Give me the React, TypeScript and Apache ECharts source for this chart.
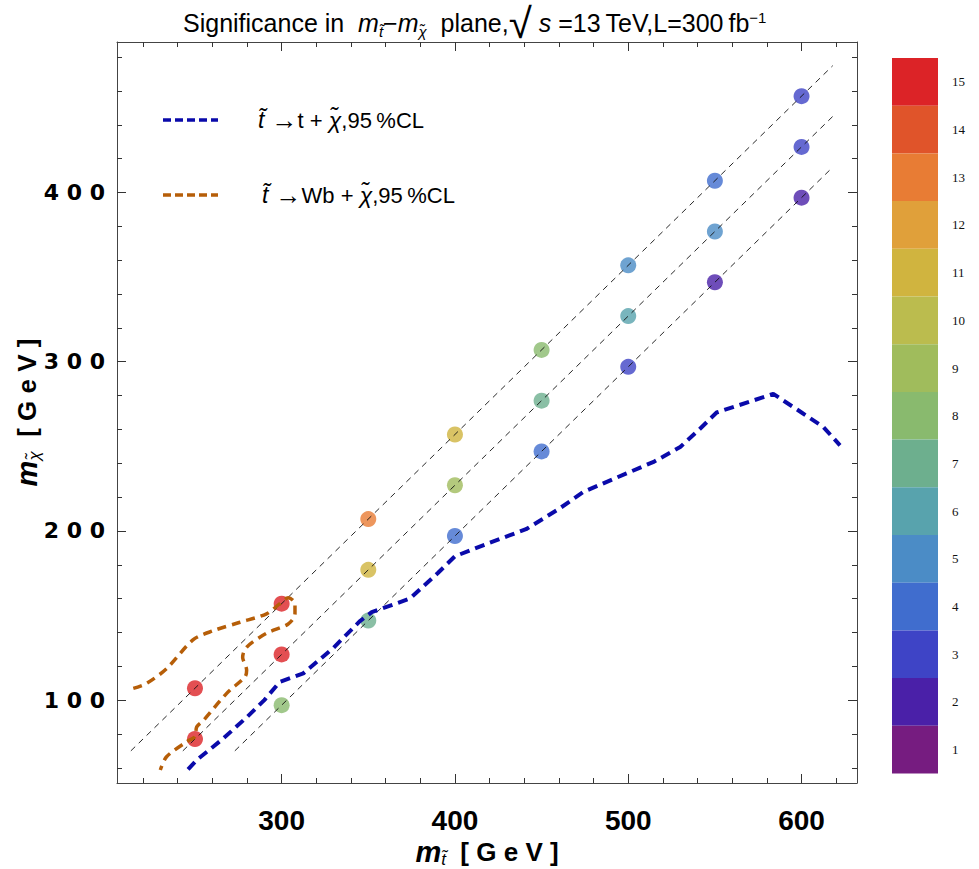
import React, { useEffect, useRef } from "react";
import * as echarts from "echarts";

// Significance points: [m_stop, m_chi, significance]
const lineA = [
  [250, 107, 15], [300, 157, 15], [350, 207, 13], [400, 257, 11],
  [450, 307, 8], [500, 357, 5], [550, 407, 4], [600, 457, 3],
];
const lineB = [
  [250, 77, 15], [300, 127, 15], [350, 177, 11], [400, 227, 9],
  [450, 277, 7], [500, 327, 6], [550, 377, 5], [600, 427, 3],
];
const lineC = [
  [300, 97, 8], [350, 147, 7], [400, 197, 4], [450, 247, 4],
  [500, 297, 3], [550, 347, 2], [600, 397, 2],
];

// Guide lines m_chi = m_stop - offset
const guideA = [[213, 70], [618, 475]];
const guideB = [[243, 70], [618, 445]];
const guideC = [[273, 70], [618, 415]];

// 95% CL contour t~ -> t + chi
const clTop = [
  [246, 59], [251, 64.6], [266, 77], [280, 90], [290, 100], [299, 110.8],
  [312.5, 115.8], [330, 131], [345, 146.5], [352, 152], [374, 160],
  [390, 175], [400, 185], [420, 193], [441, 201], [460, 213], [474, 223],
  [499, 234], [515, 241], [530, 249.6], [541, 260], [551, 270], [583.7, 281],
  [600, 270], [612.6, 261.4], [622.2, 250.6],
];

// 95% CL contour t~ -> W b + chi
const clWb = [
  [214.4, 106.9], [222, 109.8], [233.6, 118.6], [249, 135.7], [260.5, 141],
  [276, 146], [291.3, 151], [299, 157], [303.8, 160.5], [307.7, 157],
  [307.7, 151], [303.8, 145], [291.3, 139.5], [279.8, 131.3], [277.5, 125.4],
  [279.8, 117.7], [278.9, 113.8], [268.3, 104], [254.9, 88], [251, 84.2],
  [250, 78.3], [245.2, 75.4], [233.6, 66.5], [230, 58.7],
];

// Colour bar levels (top to bottom)
const levels = [15, 14, 13, 12, 11, 10, 9, 8, 7, 6, 5, 4, 3, 2, 1];
const levelColors = [
  "#DC2327", "#E0542A", "#E87C34", "#E0A03A", "#D0B43F",
  "#BBBC4E", "#A0BC5C", "#89BA6E", "#6DAF8E", "#58A3AD",
  "#4B8CC6", "#406DCE", "#3E44C6", "#4A20A8", "#761C80",
];

const xMajor = [300, 400, 500, 600];
const xMinor = [220, 240, 260, 280, 320, 340, 360, 380, 420, 440, 460, 480, 520, 540, 560, 580, 620];
const yMajor = [100, 200, 300, 400];
const yMinor = [60, 80, 120, 140, 160, 180, 220, 240, 260, 280, 320, 340, 360, 380, 420, 440, 460, 480];

const FONT = "'Liberation Sans', Arial, Helvetica, sans-serif";
const WIDE = "'DejaVu Sans', 'Liberation Sans', sans-serif";

const BLUE = "#0A0AAA";
const ORANGE = "#B65E08";

export default function App() {
  const ref = useRef<HTMLDivElement>(null);
  useEffect(() => {
    document.body.style.margin = "0";
    const chart = echarts.init(ref.current!, null, { renderer: "svg" });

    const frame = { show: true, lineStyle: { color: "#444", width: 1 } };
    const spaced = (v: number) => String(v).split("").join("\u2005\u200A");
    const xBase = { type: "value", min: 205, max: 632, splitLine: { show: false }, gridIndex: 0 };
    const yBase = { type: "value", min: 51, max: 489, splitLine: { show: false }, gridIndex: 0 };

    const nameRich = {
      m: { fontFamily: FONT, fontStyle: "italic", fontWeight: "bold", fontSize: 29, color: "#000" },
      s: { fontFamily: FONT, fontStyle: "italic", fontSize: 17, color: "#000", padding: [16, 0, 0, 0] },
      g: { fontFamily: FONT, fontWeight: "bold", fontSize: 26, color: "#000" },
    };

    const xAxes = [
      {
        ...xBase, position: "bottom", axisLine: frame,
        axisTick: { inside: true, length: 9, customValues: xMajor, lineStyle: { color: "#333" } },
        axisLabel: {
          customValues: xMajor, margin: 23, fontFamily: FONT, fontWeight: "bold",
          fontSize: 28, color: "#000",
        },
        name: "{m|m}{s|t\u0303}{g|  [ G e V ]}", nameLocation: "middle", nameGap: 52,
        nameMoveOverlap: false,
        nameTextStyle: { rich: nameRich },
      },
      {
        ...xBase, position: "bottom", axisLine: { show: false },
        axisTick: { inside: true, length: 5, customValues: xMinor, lineStyle: { color: "#333" } },
        axisLabel: { show: false },
      },
      {
        ...xBase, position: "top", axisLine: frame,
        axisTick: { inside: true, length: 9, customValues: xMajor, lineStyle: { color: "#333" } },
        axisLabel: { show: false },
      },
      {
        ...xBase, position: "top", axisLine: { show: false },
        axisTick: { inside: true, length: 5, customValues: xMinor, lineStyle: { color: "#333" } },
        axisLabel: { show: false },
      },
    ];

    const yAxes = [
      {
        ...yBase, position: "left", axisLine: frame,
        axisTick: { inside: true, length: 9, customValues: yMajor, lineStyle: { color: "#333" } },
        axisLabel: {
          customValues: yMajor, margin: 12, fontFamily: WIDE, fontWeight: "bold",
          fontSize: 22, color: "#000", formatter: (v: number) => spaced(v),
        },
        name: "{m|m}{s|\u03C7\u0303}{g|  [ G e V ]}", nameLocation: "middle", nameGap: 74,
        nameRotate: 90, nameMoveOverlap: false,
        nameTextStyle: { rich: nameRich },
      },
      {
        ...yBase, position: "left", axisLine: { show: false },
        axisTick: { inside: true, length: 5, customValues: yMinor, lineStyle: { color: "#333" } },
        axisLabel: { show: false },
      },
      {
        ...yBase, position: "right", axisLine: frame,
        axisTick: { inside: true, length: 9, customValues: yMajor, lineStyle: { color: "#333" } },
        axisLabel: { show: false },
      },
      {
        ...yBase, position: "right", axisLine: { show: false },
        axisTick: { inside: true, length: 5, customValues: yMinor, lineStyle: { color: "#333" } },
        axisLabel: { show: false },
      },
    ];

    const guideStyle = { color: "#111", width: 0.9, type: [6, 5] };
    const guide = (name: string, data: number[][]) => ({
      name, type: "line", data, symbol: "none", z: 3, silent: true,
      lineStyle: guideStyle,
    });

    const legendRich = {
      it: { fontFamily: FONT, fontStyle: "italic", fontSize: 23, color: "#000" },
      n: { fontFamily: FONT, fontSize: 22, color: "#000" },
      a: { fontFamily: FONT, fontSize: 26, color: "#000" },
    };

    chart.setOption({
      animation: false,
      backgroundColor: "#fff",
      title: {
        text: "Significance in  {i|m}{sub|t\u0303}{n|\u2212}{i|m}{sub|\u03C7\u0303}  plane,{rad|\u221A}{i| s} =13\u2009TeV,L=300\u2009fb{sup|\u22121}",
        left: 178, top: -3,
        textStyle: {
          fontFamily: FONT, fontSize: 25, fontWeight: "normal", color: "#000",
          rich: {
            i: { fontFamily: FONT, fontStyle: "italic", fontSize: 25, color: "#000" },
            n: { fontFamily: FONT, fontSize: 25, color: "#000" },
            sub: { fontFamily: FONT, fontStyle: "italic", fontSize: 15, color: "#000", padding: [17, 0, 0, 0] },
            rad: { fontFamily: FONT, fontSize: 42, color: "#000" },
            sup: { fontFamily: FONT, fontSize: 15, color: "#000", padding: [0, 0, 12, 0] },
          },
        },
      },
      grid: { left: 117, top: 42, width: 740, height: 741, containLabel: false, outerBoundsMode: "none" },
      xAxis: xAxes,
      yAxis: yAxes,
      graphic: [
        {
          type: "line", shape: { x1: 163, y1: 120, x2: 218, y2: 120 },
          style: { stroke: BLUE, lineWidth: 3.5, lineDash: [8, 4] },
        },
        {
          type: "text", x: 258, y: 120,
          style: {
            text: "{it|t\u0303}{a| \u2192}{n|t + }{it|\u03C7\u0303}{n|,95\u2009%CL}",
            rich: legendRich, verticalAlign: "middle",
          },
        },
        {
          type: "line", shape: { x1: 163, y1: 195, x2: 218, y2: 195 },
          style: { stroke: ORANGE, lineWidth: 3.5, lineDash: [8, 4] },
        },
        {
          type: "text", x: 262, y: 195,
          style: {
            text: "{it|t\u0303}{a| \u2192}{n|Wb + }{it|\u03C7\u0303}{n|,95\u2009%CL}",
            rich: legendRich, verticalAlign: "middle",
          },
        },
      ],
      visualMap: {
        type: "piecewise",
        seriesIndex: 0,
        dimension: 2,
        orient: "vertical",
        align: "left",
        left: 877, top: 43,
        itemWidth: 46, itemHeight: 47.7, itemGap: 0, textGap: 14,
        itemSymbol: "rect",
        selectedMode: false,
        hoverLink: false,
        showLabel: true,
        textStyle: { fontFamily: "'Liberation Serif', 'DejaVu Serif', serif", fontSize: 13, color: "#111" },
        pieces: levels.map((v, i) => ({ min: v - 0.5, max: v + 0.49, label: String(v), color: levelColors[i] })),
      },
      series: [
        {
          name: "points", type: "scatter", data: [...lineA, ...lineB, ...lineC],
          symbol: "circle", symbolSize: 16, z: 2, encode: { x: 0, y: 1 },
        },
        guide("gA", guideA),
        guide("gB", guideB),
        guide("gC", guideC),
        {
          name: "clTop", type: "line", data: clTop, symbol: "none", z: 5, smooth: false,
          color: BLUE,
          lineStyle: { color: BLUE, width: 4, type: [10, 6] },
        },
        {
          name: "clWb", type: "line", data: clWb, symbol: "none", z: 5, smooth: 0.3,
          color: ORANGE,
          lineStyle: { color: ORANGE, width: 3.5, type: [9, 6] },
        },
      ],
    });
    return () => chart.dispose();
  }, []);
  return <div ref={ref} style={{ width: 979, height: 869 }} />;
}
